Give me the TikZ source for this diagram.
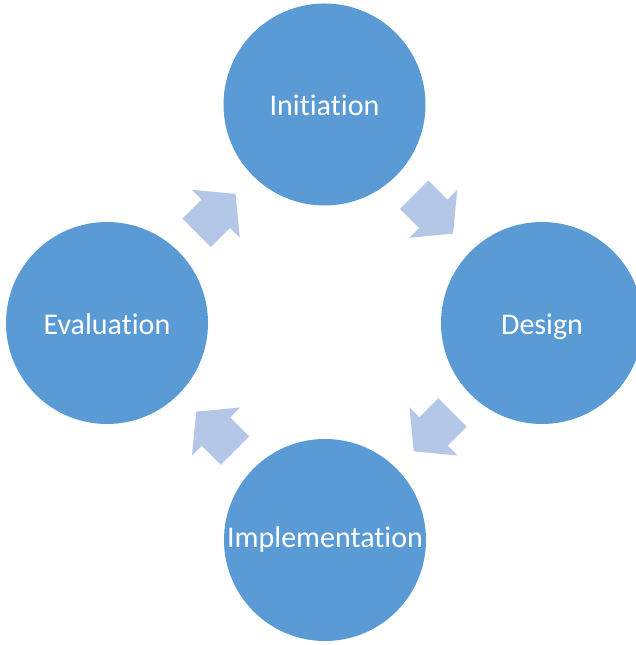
\documentclass[tikz,border=0pt]{standalone}
\usepackage{fontspec}
\setmainfont{Carlito}[Ligatures=NoCommon]
\usetikzlibrary{calc}
\definecolor{circblue}{HTML}{5B9BD5}
\definecolor{arrblue}{HTML}{B4C7E7}
\tikzset{
  phase/.style={circle, fill=circblue, draw=none, minimum size=202pt, inner sep=0pt,
    text=white, text height=22.5pt, text depth=0pt, font=\fontsize{30}{34}\selectfont},
  blockarrow/.style={fill=arrblue, draw=none}
}
\newcommand{\cyclearrow}[2]{%
  \fill[blockarrow, shift={(#1)}, rotate=#2]
    (-27,-20) -- (0,-20) -- (0,-34) -- (28,0) -- (0,34) -- (0,20) -- (-27,20) -- cycle;}
\begin{document}
\begin{tikzpicture}[x=1pt,y=1pt]
\clip (0,0) rectangle (636,645);
\node[phase] (init) at (324.5,540.5) {Initiation};
\node[phase] (design) at (542,322) {Design};
\node[phase, text height=15pt] (impl) at (325,105) {Implementation};
\node[phase] (eval) at (107,322) {Evaluation};
\cyclearrow{$(eval.center)!0.5!(init.center)$}{45}
\cyclearrow{$(init.center)!0.5!(design.center)$}{-45}
\cyclearrow{$(design.center)!0.5!(impl.center)$}{-135}
\cyclearrow{$(impl.center)!0.5!(eval.center)$}{135}
\end{tikzpicture}
\end{document}
